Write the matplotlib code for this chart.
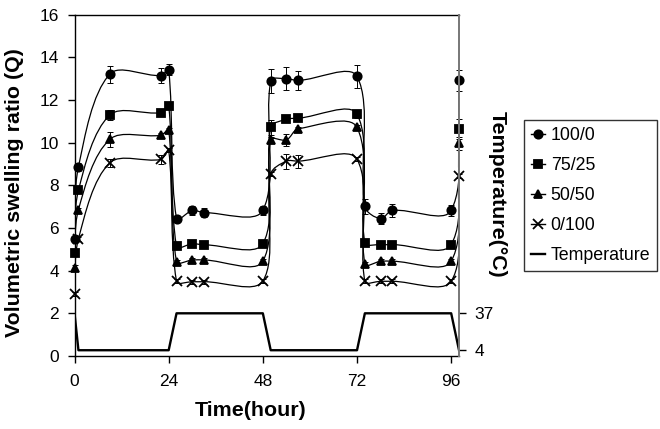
import numpy as np
import matplotlib
matplotlib.use("Agg")
import matplotlib.pyplot as plt
from matplotlib.path import Path
from matplotlib.patches import PathPatch
from matplotlib.lines import Line2D

plt.rcParams["font.family"] = ["Liberation Sans", "DejaVu Sans"]

# swelling data (hours, Q)
hours = [0, 1, 9, 22, 24, 26, 30, 33, 48, 50, 54, 57, 72, 74, 78, 81, 96, 98]
q_100_0 = [5.49, 8.86, 13.21, 13.14, 13.41, 6.43, 6.82, 6.72, 6.82, 12.89, 12.99, 12.91, 13.10, 7.01, 6.43, 6.82, 6.82, 12.91]
q_75_25 = [4.83, 7.76, 11.29, 11.40, 11.72, 5.13, 5.26, 5.21, 5.26, 10.71, 11.09, 11.14, 11.33, 5.30, 5.22, 5.22, 5.22, 10.64]
q_50_50 = [4.14, 6.85, 10.15, 10.34, 10.59, 4.42, 4.50, 4.50, 4.44, 10.12, 10.12, 10.64, 10.71, 4.31, 4.44, 4.44, 4.44, 9.96]
q_0_100 = [2.90, 5.49, 9.05, 9.21, 9.65, 3.50, 3.48, 3.48, 3.51, 8.52, 9.13, 9.13, 9.22, 3.50, 3.50, 3.50, 3.50, 8.44]

err_100_0 = [0.1, 0.2, 0.4, 0.35, 0.25, 0.15, 0.2, 0.2, 0.2, 0.55, 0.55, 0.45, 0.55, 0.35, 0.25, 0.3, 0.25, 0.5]
err_75_25 = [0.1, 0.1, 0.25, 0.15, 0.1, 0.1, 0.1, 0.1, 0.1, 0.35, 0.1, 0.1, 0.2, 0.1, 0.1, 0.1, 0.1, 0.45]
err_50_50 = [0.1, 0.1, 0.35, 0.1, 0.1, 0.1, 0.1, 0.1, 0.1, 0.15, 0.3, 0.1, 0.1, 0.1, 0.1, 0.1, 0.1, 0.3]
err_0_100 = [0.1, 0.1, 0.2, 0.2, 0.1, 0.1, 0.1, 0.1, 0.1, 0.1, 0.35, 0.3, 0.1, 0.1, 0.1, 0.1, 0.1, 0.1]

labels = ["100/0", "75/25", "50/50", "0/100"]
markers = ["o", "s", "^", "x"]
sizes = [6, 5.5, 6, 7]

# temperature program
temp_hours = [0, 1, 24, 26, 48, 50, 72, 74, 96, 98]
temp_c = [37, 4, 4, 37, 37, 4, 4, 37, 37, 4]

# px per data unit, used to weight the smoothing like excel does
SX, SY = 3.92, 21.34


def smooth_path(x, y):
    p = np.column_stack([x, y]).astype(float)
    s = np.array([SX, SY])
    n = len(p)
    verts = [p[0]]
    codes = [Path.MOVETO]
    for i in range(n - 1):
        p0 = p[max(i - 1, 0)]
        p1 = p[i]
        p2 = p[i + 1]
        p3 = p[min(i + 2, n - 1)]
        d01 = np.hypot(*((p1 - p0) * s))
        d12 = np.hypot(*((p2 - p1) * s))
        d23 = np.hypot(*((p3 - p2) * s))
        f1 = 2 * d12 / (d01 + d12) if d01 + d12 > 0 else 0
        f2 = 2 * d12 / (d12 + d23) if d12 + d23 > 0 else 0
        c1 = p1 + (p2 - p0) / 6 * f1
        c2 = p2 - (p3 - p1) / 6 * f2
        verts += [c1, c2, p2]
        codes += [Path.CURVE4] * 3
    return Path(verts, codes)


fig = plt.figure(figsize=(6.6, 4.29), dpi=100)
ax = fig.add_axes([0.1129, 0.1702, 0.5826, 0.7960])

series = [q_100_0, q_75_25, q_50_50, q_0_100]
errors = [err_100_0, err_75_25, err_50_50, err_0_100]
handles = []
for q, e, lab, m, ms in zip(series, errors, labels, markers, sizes):
    ax.add_patch(PathPatch(smooth_path(hours, q), fill=False, ec="black", lw=0.9))
    ax.errorbar(hours, q, yerr=e, fmt="none", ecolor="black", elinewidth=0.7,
                capsize=2, capthick=0.7, clip_on=False)
    ax.plot(hours, q, ls="none", marker=m, ms=ms, color="black", mew=1.3,
            clip_on=False, zorder=5)
    handles.append(Line2D([], [], color="black", lw=1, marker=m, ms=ms, mew=1.3, label=lab))

ax.set_xlim(0, 98)
ax.set_ylim(0, 16)
ax.set_xticks([0, 24, 48, 72, 96])
ax.set_yticks(range(0, 17, 2))
ax.tick_params(direction="out", length=5, width=1, labelsize=12.5, pad=6)
ax.tick_params(axis="x", pad=8)
ax.spines["right"].set_visible(False)
for sp in ["left", "bottom", "top"]:
    ax.spines[sp].set_linewidth(1)

ax2 = ax.twinx()
ax2.plot(temp_hours, temp_c, color="black", lw=1.7)
ax2.set_ylim(-1.15, 304.1)
ax2.set_xlim(0, 98)
ax2.set_yticks([4, 37])
ax2.tick_params(direction="out", length=5, width=1, labelsize=12.5, pad=6)
ax2.spines["right"].set_color("#777777")
ax2.spines["right"].set_linewidth(1.4)
for sp in ["left", "bottom", "top"]:
    ax2.spines[sp].set_visible(False)
handles.append(Line2D([], [], color="black", lw=1.7, label="Temperature"))

fig.text(15 / 660, 1 - 193 / 429, "Volumetric swelling ratio (Q)", rotation=90,
         ha="center", va="center", fontsize=15.4, fontweight="bold")
fig.text(251 / 660, 1 - 411 / 429, "Time(hour)", ha="center", va="center",
         fontsize=15.4, fontweight="bold")
fig.text(497 / 660, 1 - 194 / 429, "Temperature(\u00b0C)", rotation=270,
         ha="center", va="center", fontsize=15.4, fontweight="bold")

leg = fig.legend(handles=handles, loc="upper left", bbox_to_anchor=(524 / 660, 1 - 120 / 429),
                 borderaxespad=0, fontsize=12.8, frameon=True, fancybox=False,
                 borderpad=0.4, labelspacing=0.73, handlelength=0.8, handletextpad=0.3)
leg.get_frame().set_edgecolor("black")
leg.get_frame().set_linewidth(1)

fig.savefig("out.png", dpi=100)
